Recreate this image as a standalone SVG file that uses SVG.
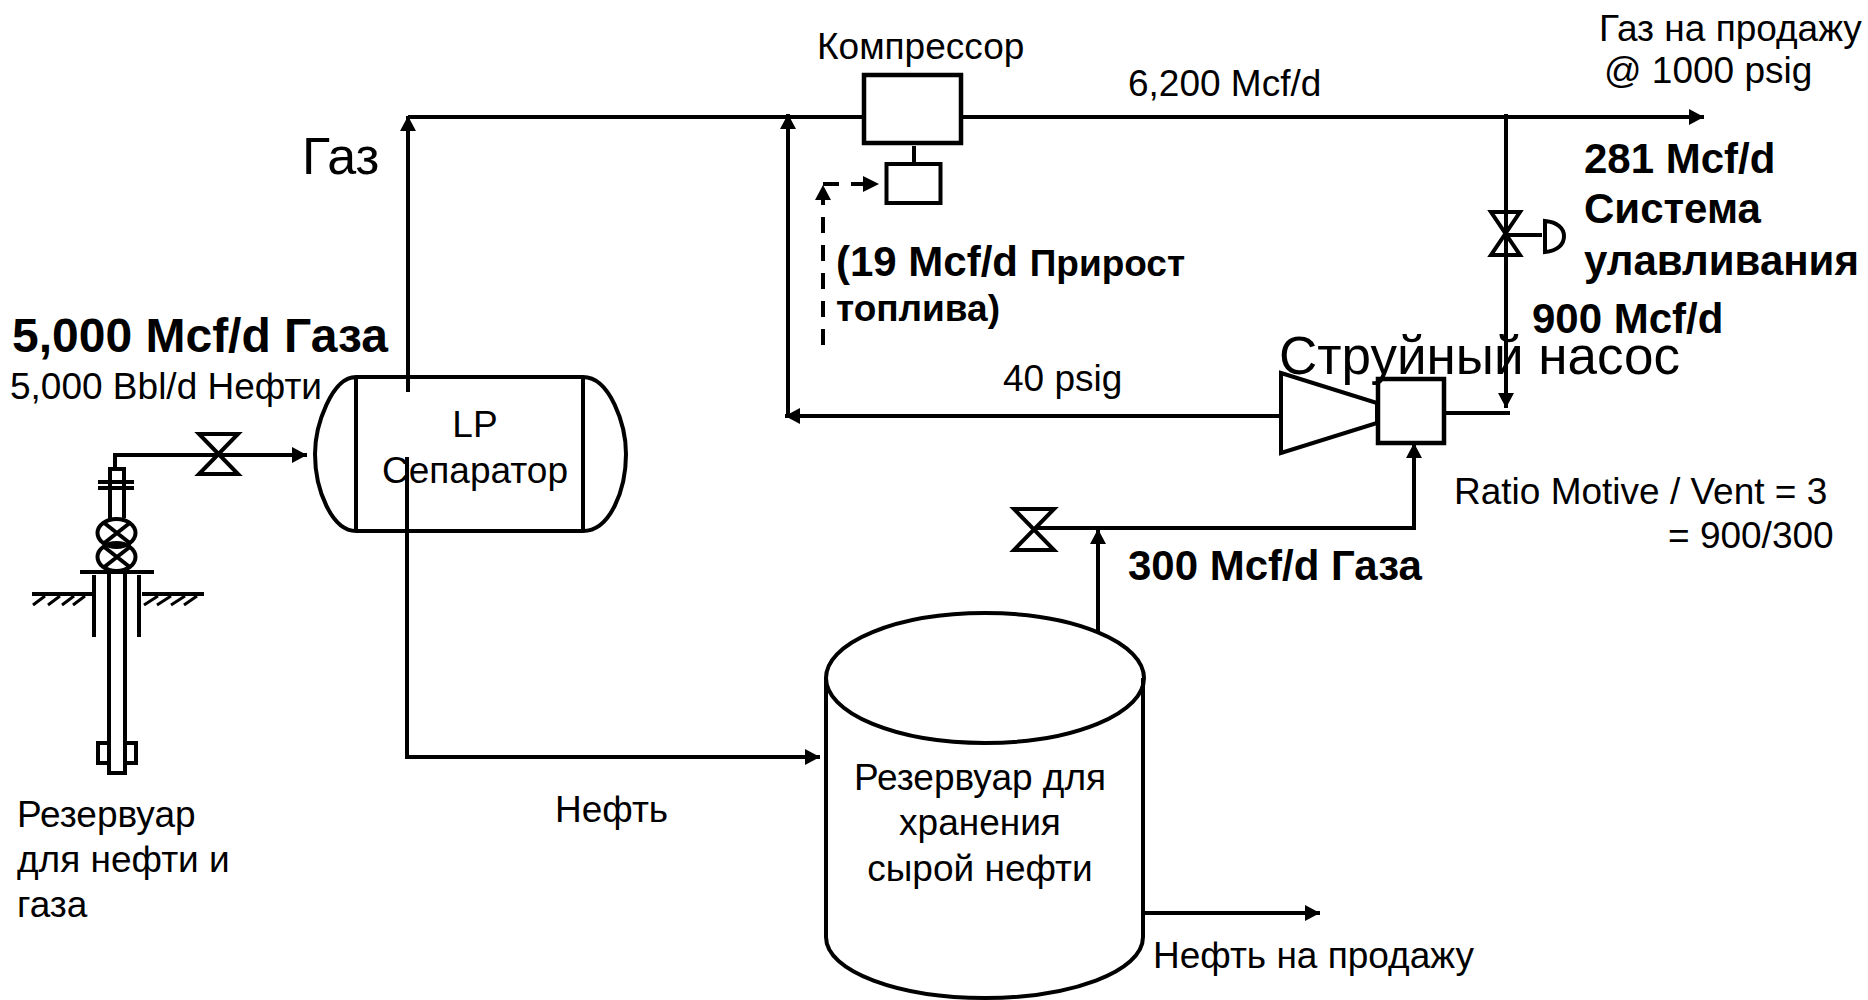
<svg xmlns="http://www.w3.org/2000/svg" width="1868" height="1000" viewBox="0 0 1868 1000">
<style>
.s{fill:none;stroke:#000;stroke-width:4}
.w{fill:#fff;stroke:#000;stroke-width:4.5}
.t{stroke-width:3}
.d{stroke-dasharray:16 12}
text{font-family:"Liberation Sans",Arial,sans-serif;fill:#000;font-size:37px}
.b{font-weight:bold;font-size:42px}
.m{text-anchor:middle}
</style>
<defs>
<marker id="a" markerUnits="userSpaceOnUse" markerWidth="16" markerHeight="16" refX="15" refY="8" orient="auto"><path d="M0,0L15,8L0,16z" fill="#000"/></marker>
</defs>
<rect width="1868" height="1000" fill="#fff"/>
<g id="well">
<path class="s" d="M110,518V469H124V518M98,482H134M98,488H134"/>
<ellipse class="s" cx="116.500" cy="533" rx="19" ry="14"/>
<ellipse class="s" cx="116.500" cy="557" rx="19" ry="14"/>
<path class="s" d="M103,522L131,544M131,522L103,544M103,546L131,568M131,546L103,568"/>
<path class="s" d="M80,572H154M94,575V637M139,575V637M109,572V773H125V572"/>
<path class="s" d="M32,594H92M142,594H204"/>
<path class="s t" d="M45,596L33,605M60,596L48,605M74,596L62,605M85,596L73,605M158,596L144,605M171,596L157,605M185,596L171,605M197,596L184,605"/>
<path class="s" d="M109,743H98V763H109M125,743H136V763H125"/>
</g>
<g id="connectors">
<path class="s" d="M115,469V455H307" marker-end="url(#a)"/>
<path class="s" d="M408,392V116" marker-end="url(#a)"/>
<path class="s" d="M407,457V757H820" marker-end="url(#a)"/>
<path class="s" d="M408,117H1704" marker-end="url(#a)"/>
<path class="s" d="M788,417V114" marker-end="url(#a)"/>
<path class="s" d="M1281,416H785" marker-end="url(#a)"/>
<path class="s" d="M1506,114V408" marker-end="url(#a)"/>
<path class="s" d="M1446,413H1510"/>
<path class="s" d="M1036,528H1414V443" marker-end="url(#a)"/>
<path class="s" d="M1098,632V529" marker-end="url(#a)"/>
<path class="s" d="M1143,913H1320" marker-end="url(#a)"/>
<path class="s d" d="M823,345V185"/>
<path class="s d" d="M823,184H879"/>
<path d="M823,185L831,200H815zM879,184L863,176V192z" fill="#000"/>
<path class="s" d="M914,146V163"/>
</g>
<g id="inlet-valve"><path class="s" d="M199,434H238L199,474H238z"/></g>
<g id="separator">
<path class="s" d="M356,377H583C610,377 626,425 626,454C626,490 610,531 583,531H356C332,531 315,490 315,454C315,425 332,377 356,377zM356,377V531M583,377V531"/>
</g>
<g id="compressor"><rect class="w" x="864" y="75" width="97" height="68"/></g>
<g id="driver"><rect class="s" x="886.500" y="164" width="54" height="39"/></g>
<g id="gas-valve"><path class="s" d="M1491,212H1520L1491,255H1520z"/><path class="s" d="M1506,235H1542M1545,221C1558,222 1564,229 1564,236C1564,244 1558,251 1545,252z"/></g>
<g id="ejector"><path class="s" d="M1281,373L1377,403V423L1281,453z"/><rect class="w" x="1378" y="379" width="66" height="64"/></g>
<g id="vent-valve"><path class="s" d="M1014,509H1054L1014,550H1054z"/></g>
<g id="tank"><path class="s" d="M826,678V937C826,972 900,998 985,998C1070,998 1143,972 1143,937V678"/><ellipse class="s" cx="985" cy="678" rx="159" ry="65"/></g>
<g id="labels">
<text class="b" x="12" y="352" style="font-size:48px">5,000 Mcf/d Газа</text>
<text x="10" y="399">5,000 Bbl/d Нефти</text>
<text x="302" y="174" style="font-size:52px">Газ</text>
<text class="m" x="475" y="437">LP</text>
<text class="m" x="475" y="483">Сепаратор</text>
<text x="17" y="827">Резервуар</text>
<text x="17" y="872">для нефти и</text>
<text x="17" y="917">газа</text>
<text x="555" y="822">Нефть</text>
<text class="m" x="980" y="790">Резервуар для</text>
<text class="m" x="980" y="835">хранения</text>
<text class="m" x="980" y="881">сырой нефти</text>
<text x="1153" y="968">Нефть на продажу</text>
<text x="817" y="59">Компрессор</text>
<text x="1128" y="96">6,200 Mcf/d</text>
<text x="1599" y="41">Газ на продажу</text>
<text x="1604" y="83">@ 1000 psig</text>
<text class="b" x="1584" y="173">281 Mcf/d</text>
<text class="b" x="1584" y="223">Система</text>
<text class="b" x="1584" y="275">улавливания</text>
<text class="b" x="1532" y="333">900 Mcf/d</text>
<text x="1279" y="374" style="font-size:53px">Струйный насос</text>
<text x="1003" y="391">40 psig</text>
<text x="1454" y="504">Ratio Motive / Vent = 3</text>
<text x="1668" y="548">= 900/300</text>
<text class="b" x="1128" y="580">300 Mcf/d Газа</text>
<text class="b" x="836" y="276">(19 Mcf/d <tspan style="font-size:37px">Прирост</tspan></text>
<text class="b" x="836" y="321" style="font-size:37px">топлива)</text>
</g>
</svg>
